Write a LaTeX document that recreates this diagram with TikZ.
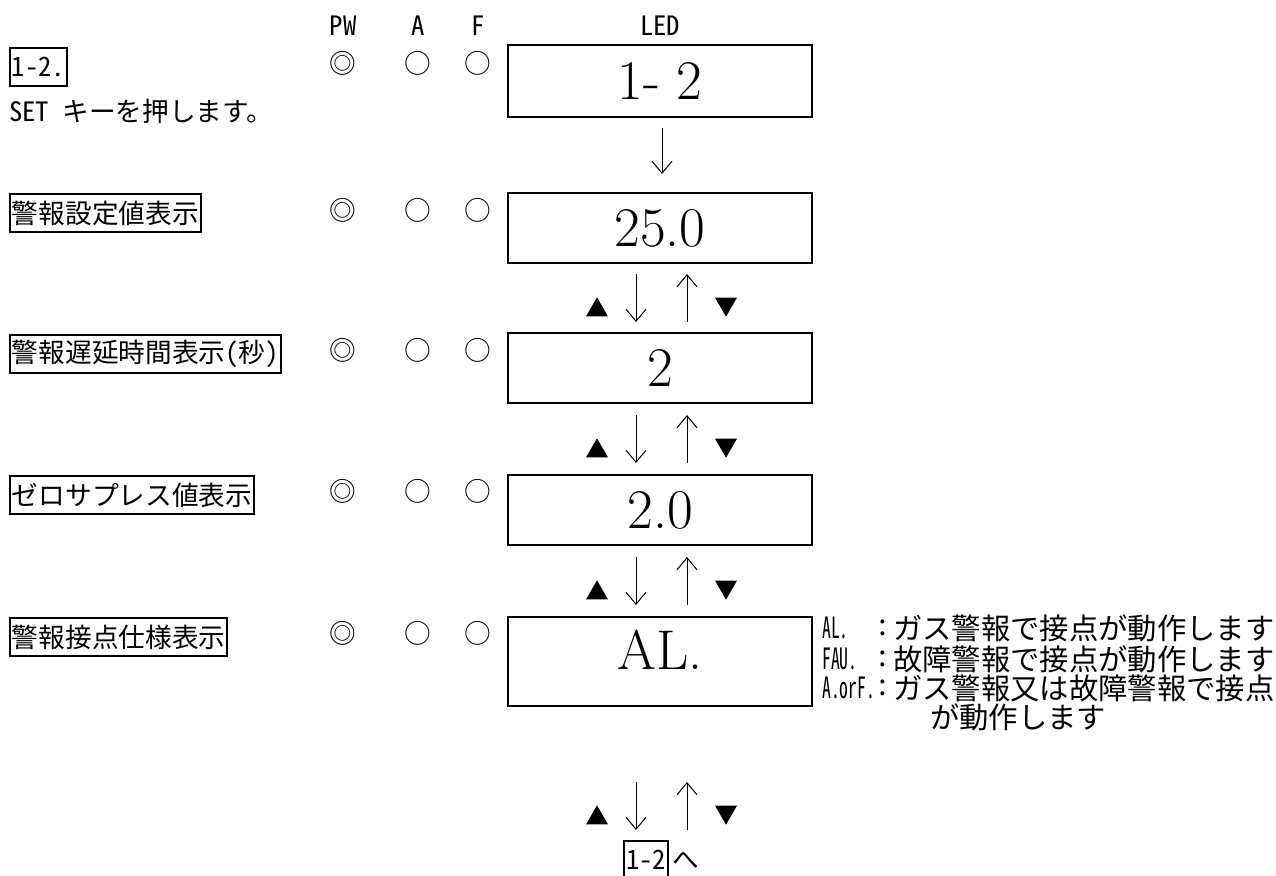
\documentclass[tikz,border=0pt]{standalone}
\usepackage{fontspec}
\usetikzlibrary{arrows.meta,calc,shapes.geometric}
\newfontfamily\jp[RawFeature=+hwid]{Noto Sans CJK JP}
\newfontfamily\jpfull{Noto Sans CJK JP}
\newcommand\narrowtxt[1]{\scalebox{0.6}[1]{#1}}
\begin{document}
\begin{tikzpicture}[x=0.75pt,y=-0.75pt,
  lbl/.style={draw,line width=1.5pt,font=\jp\fontsize{20}{24}\selectfont,inner xsep=1.5pt,inner ysep=0pt,minimum height=28.5pt,anchor=north west},
  txt/.style={font=\jp\fontsize{20}{24}\selectfont,inner sep=0pt},
  rt/.style={font=\jpfull\fontsize{22}{26}\selectfont,inner sep=0pt,anchor=west},
  rk/.style={font=\jp\fontsize{22}{26}\selectfont,inner sep=0pt,anchor=west},
  rc/.style={font=\jp\fontsize{22}{26}\selectfont,inner sep=0pt},
  led/.style={draw,line width=1.5pt,minimum width=228pt,font=\fontsize{42}{48}\selectfont,inner sep=0pt},
  arr/.style={line width=0.75pt,-{Straight Barb[length=9pt,width=15pt]}},
  tri/.style={regular polygon,regular polygon sides=3,fill,draw=none,inner sep=0pt,minimum size=19pt},
  ]
\useasboundingbox (0,0) rectangle (1276,875);

% headers
\node[txt] (hpw) at (343,26) {PW};
\node[txt] (ha) at (418,26) {A};
\node[txt] (hf) at (478,26) {F};
\node[txt] (hled) at (660,26) {LED};

% indicator lamps
\foreach \r/\y in {1/63,2/210,3/350,4/491,5/633}{
  \node[txt] (pw\r) at (343,\y) {◎};
  \node[txt] (la\r) at (418,\y) {○};
  \node[txt] (lf\r) at (478,\y) {○};
}

% LED boxes
\node[led,minimum height=54pt] (b1) at (660,81) {1- 2};
\node[led,minimum height=52.5pt] (b2) at (660,228) {25.0};
\node[led,minimum height=52.5pt] (b3) at (660,368) {2};
\node[led,minimum height=52.5pt] (b4) at (660,510) {2.0};
\node[led,text height=39pt,text depth=27.75pt,anchor=north] (b5) at (660,616) {AL.};

% left labels
\node[lbl] (l1) at (9,47) {1-2.};
\node[txt,anchor=west] (s1) at (9,111) {SET キーを押します。};
\node[lbl] (l2) at (9,193) {警報設定値表示};
\node[lbl] (l3) at (9,334) {警報遅延時間表示(秒)};
\node[lbl] (l4) at (9,475) {ゼロサプレス値表示};
\node[lbl] (l5) at (9,617) {警報接点仕様表示};

% right description
\node[rk] (k1) at (822,628) {\narrowtxt{AL.}};
\node[rc] (c1) at (883,628) {:};
\node[rt] (d1) at (893,628) {ガス警報で接点が動作します};
\node[rk] (k2) at (822,659) {\narrowtxt{FAU.}};
\node[rc] (c2) at (883,659) {:};
\node[rt] (d2) at (893,659) {故障警報で接点が動作します};
\node[rk] (k3) at (822,688) {\narrowtxt{A.orF.}};
\node[rc] (c3) at (883,688) {:};
\node[rt] (d3) at (893,688) {ガス警報又は故障警報で接点};
\node[rt] (d4) at (930,717) {が動作します};

% final target
\node[lbl] (fin) at (623,840) {1-2};
\node[txt,anchor=west] (he) at ($(fin.east)+(3,1)$) {へ};

% first arrow
\draw[arr] ($(b1.south)+(2,10)$) -- ($(b2.north)+(2,-18)$);

% up/down rows
\coordinate (m2) at ($(b2.south)!0.5!(b3.north)$);
\coordinate (m3) at ($(b3.south)!0.5!(b4.north)$);
\coordinate (m4) at ($(b4.south)!0.5!(b5.north)$);
\coordinate (m5) at ($(fin.north -| b5.south)+(0,-34)$);
\foreach \m in {m2,m3,m4,m5}{
  \draw[arr] ($(\m)+(-24,-24)$) -- ($(\m)+(-24,24)$);
  \draw[arr] ($(\m)+(27,24)$) -- ($(\m)+(27,-24)$);
  \node[tri] (\m up) at ($(\m)+(-63,12)$) {};
  \node[tri,shape border rotate=180] (\m dn) at ($(\m)+(66,6)$) {};
}
\end{tikzpicture}
\end{document}
